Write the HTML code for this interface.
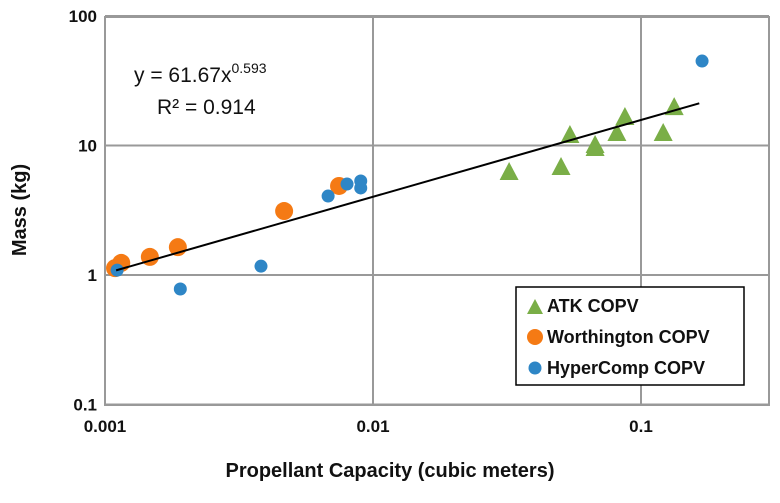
<!DOCTYPE html>
<html><head><meta charset="utf-8"><style>
body{margin:0;background:#fff;font-family:"Liberation Sans",Arial,sans-serif}
svg text{font-family:"Liberation Sans",Arial,sans-serif}
</style></head><body>
<svg id="chart" width="780" height="498" xmlns="http://www.w3.org/2000/svg">
<g id="grid"></g>
<g id="ticks"></g>
<text x="0" y="0" transform="translate(26,210) rotate(-90)" text-anchor="middle" font-weight="bold" font-size="20" fill="#111">Mass (kg)</text>
<text x="390" y="477" text-anchor="middle" font-weight="bold" font-size="20" fill="#111">Propellant Capacity (cubic meters)</text>
<g id="marks"></g>
<text x="134" y="82" font-size="21" fill="#111">y = 61.67x<tspan font-size="14" dy="-9">0.593</tspan></text>
<text x="157" y="114" font-size="21" fill="#111">R² = 0.914</text>
<g>
<rect x="516" y="287" width="228" height="98" fill="#fff" stroke="#000" stroke-width="1.5"/>
<polygon points="527,314 535,299 543,314" fill="#7aae47"/>
<text x="547" y="312" font-weight="bold" font-size="18" fill="#111">ATK COPV</text>
<circle cx="535" cy="337" r="8" fill="#f57a14"/>
<text x="547" y="343" font-weight="bold" font-size="18" fill="#111">Worthington COPV</text>
<circle cx="535" cy="368" r="6.5" fill="#2e86c6"/>
<text x="547" y="374" font-weight="bold" font-size="18" fill="#111">HyperComp COPV</text>
</g>
</svg>
<script>
const xTicks=[0.001,0.01,0.1];
const xTickLabels=["0.001","0.01","0.1"];
const yTicks=[0.1,1,10,100];
const yTickLabels=["0.1","1","10","100"];
const atkX=[0.0322,0.0503,0.0543,0.0674,0.0674,0.0813,0.0871,0.121,0.133];
const atkY=[6.24,6.82,12.05,10.1,9.57,12.5,16.6,12.5,19.8];
const worX=[0.00109,0.00115,0.00147,0.00187,0.00466,0.00747];
const worY=[1.13,1.24,1.38,1.64,3.12,4.87];
const hypX=[0.00111,0.00191,0.00382,0.0068,0.008,0.009,0.009,0.169];
const hypY=[1.09,0.78,1.17,4.07,5.04,5.32,4.7,44.9];
const fitA=61.67, fitB=0.593, fitRange=[0.0011,0.165];

const L=105,R=769,T=17,B=405;
const xs=v=>L+(Math.log10(v)+3)*268;
const ys=v=>275-Math.log10(v)*129.5;
const NS="http://www.w3.org/2000/svg";
function mk(tag,attrs,parent){const e=document.createElementNS(NS,tag);for(const k in attrs)e.setAttribute(k,attrs[k]);document.getElementById(parent).appendChild(e);return e;}
const pa=mk('rect',{x:L,y:T,width:R-L,height:B-T,fill:'none',stroke:'#999','stroke-width':2},'grid');


xTicks.forEach((t,i)=>{
 const l=mk('line',{x1:xs(t),x2:xs(t),y1:T,y2:B,stroke:'#999','stroke-width':2},'grid');
 
 
 const tx=mk('text',{x:xs(t),y:432,'text-anchor':'middle','font-weight':'bold','font-size':17,fill:'#111'},'ticks');
 tx.textContent=xTickLabels[i];
 
 
});
yTicks.forEach((t,i)=>{
 const l=mk('line',{x1:L,x2:R,y1:ys(t),y2:ys(t),stroke:'#999','stroke-width':2},'grid');
 
 
 const tx=mk('text',{x:97,y:ys(t)+6,'text-anchor':'end','font-weight':'bold','font-size':17,fill:'#111'},'ticks');
 tx.textContent=yTickLabels[i];
 
 
});
worX.forEach((v,i)=>{
 const c=mk('circle',{cx:xs(v),cy:ys(worY[i]),r:9,fill:'#f57a14'},'marks');
 
 
});
hypX.forEach((v,i)=>{
 const c=mk('circle',{cx:xs(v),cy:ys(hypY[i]),r:6.5,fill:'#2e86c6'},'marks');
 
 
});
atkX.forEach((v,i)=>{
 const x=xs(v),y=ys(atkY[i]);
 const p=mk('polygon',{points:`${x-9.5},${y+8} ${x},${y-10} ${x+9.5},${y+8}`,fill:'#7aae47'},'marks');
 
 
});
const f=v=>fitA*Math.pow(v,fitB);
const tl=mk('line',{x1:xs(fitRange[0]),y1:ys(f(fitRange[0])),x2:xs(fitRange[1]),y2:ys(f(fitRange[1])),stroke:'#000','stroke-width':2},'marks');


</script>
</body></html>
